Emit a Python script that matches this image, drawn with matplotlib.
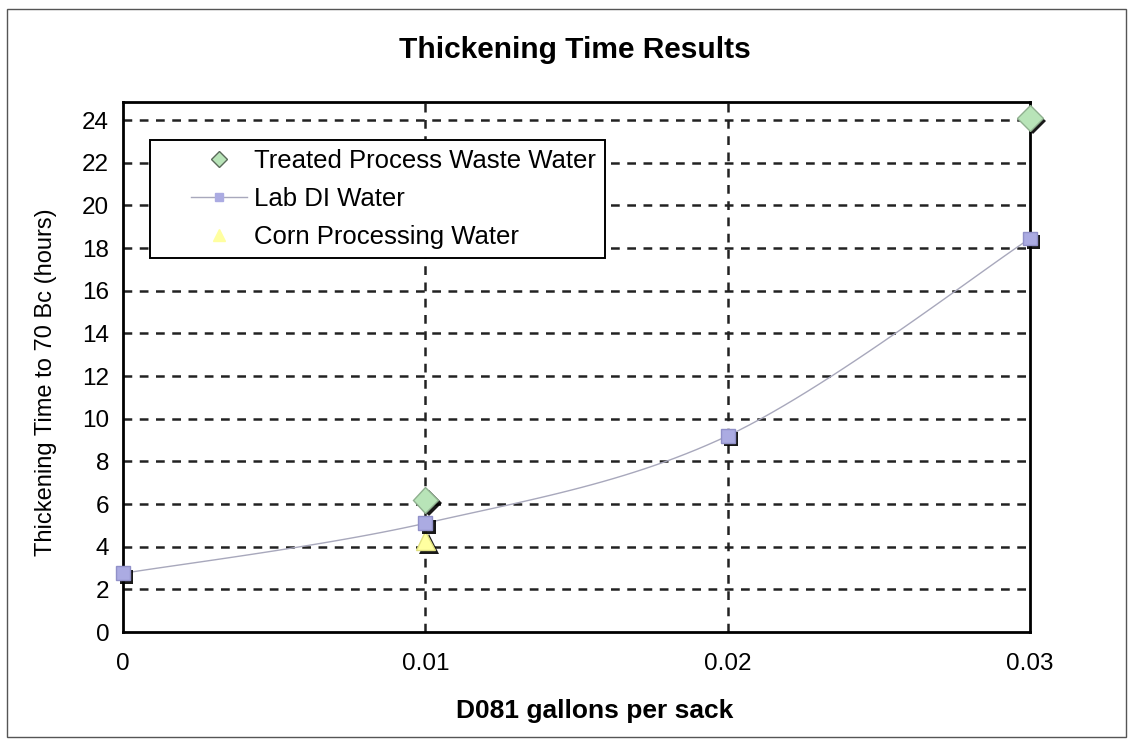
import matplotlib
matplotlib.use("Agg")
import matplotlib.pyplot as plt
import matplotlib.patheffects as pe
import numpy as np
from matplotlib.patches import Rectangle
from matplotlib.lines import Line2D
from matplotlib.legend_handler import HandlerLine2D

x_ticks = [0, 0.01, 0.02, 0.03]
x_tick_labels = ["0", "0.01", "0.02", "0.03"]

treated_x = [0.01, 0.03]
treated_y = [6.2, 24.1]

lab_x = [0.0, 0.01, 0.02, 0.03]
lab_y = [2.75, 5.1, 9.2, 18.45]

corn_x = [0.01]
corn_y = [4.3]

y_ticks = list(range(0, 25, 2))

plt.rcParams['font.family'] = ['Liberation Sans', 'DejaVu Sans']

fig = plt.figure(figsize=(11.33, 7.44), dpi=100)
ax = fig.add_axes([0.1086, 0.1505, 0.8005, 0.7124])

# smooth curve (Catmull-Rom) through Lab DI points for display
def catmull(xs, ys, n=30):
    px = [xs[0]] + list(xs) + [xs[-1]]
    py = [ys[0]] + list(ys) + [ys[-1]]
    ox, oy = [], []
    for i in range(1, len(px) - 2):
        t = np.linspace(0, 1, n)
        for arr, out in ((px, ox), (py, oy)):
            p0, p1, p2, p3 = arr[i-1], arr[i], arr[i+1], arr[i+2]
            out.extend(0.5 * ((2*p1) + (-p0 + p2)*t + (2*p0 - 5*p1 + 4*p2 - p3)*t**2 + (-p0 + 3*p1 - 3*p2 + p3)*t**3))
    return ox, oy

sx, sy = catmull(lab_x, lab_y)
ax.plot(sx, sy, color='#a8a8bc', lw=1.0, zorder=3)

for yv in y_ticks:
    if yv == 0:
        continue
    ax.axhline(yv, color='#222222', lw=1.8, ls=(0, (3.5, 3)), zorder=1)
for xv in x_ticks[1:3]:
    ax.axvline(xv, color='#222222', lw=1.8, ls=(0, (3.5, 3)), zorder=1)

shadow = [pe.withSimplePatchShadow(offset=(2.5, -2.5), shadow_rgbFace='black', alpha=0.9)]

ax.plot(treated_x, treated_y, ls='none', marker='D', ms=13, mfc='#b8e4b8', mec='#8fb08f', mew=1.0, zorder=5,
        path_effects=shadow)
ax.plot(lab_x, lab_y, ls='none', marker='s', ms=10, mfc='#ababe2', mec='#9090c8', mew=1.0, zorder=5,
        path_effects=shadow)
ax.plot(corn_x, corn_y, ls='none', marker='^', ms=14, mfc='#ffffa0', mec='#e0e080', mew=1.0, zorder=4,
        path_effects=shadow)

handles = [
    Line2D([], [], ls='none', marker='D', ms=8, mfc='#b8e4b8', mec='#5a6a5a', mew=1.0),
    Line2D([], [], color='#a8a8bc', lw=1.0, marker='s', ms=6, mfc='#ababe2', mec='#ababe2'),
    Line2D([], [], ls='none', marker='^', ms=8, mfc='#ffffa0', mec='#ffffa0'),
]
leg = ax.legend(handles, ['Treated Process Waste Water', 'Lab DI Water', 'Corn Processing Water'],
                loc='upper left', bbox_to_anchor=(0.03, 0.928), fontsize=18.5, frameon=True,
                fancybox=False, edgecolor='black', framealpha=1, borderpad=0.35,
                handlelength=3.4, handletextpad=0.3, labelspacing=0.55, borderaxespad=0,
                handler_map={Line2D: HandlerLine2D(xpad=1.25)})
leg.get_frame().set_linewidth(1.4)

ax.set_xlim(0, 0.03)
ax.set_ylim(0, 24.85)
ax.set_xticks(x_ticks)
ax.set_xticklabels(x_tick_labels)
ax.set_yticks(y_ticks)
ax.tick_params(axis='both', labelsize=17.5, length=0, pad=10)
ax.tick_params(axis='x', pad=15)
for s in ax.spines.values():
    s.set_linewidth(2.0)
for ln in ax.lines:
    ln.set_clip_on(False)

fig.text(595 / 1133, 1 - 711 / 744, 'D081 gallons per sack', ha='center', va='center',
         fontsize=19, fontweight='bold')
fig.text(46 / 1133, 1 - 382 / 744, 'Thickening Time to 70 Bc (hours)', ha='center', va='center',
         rotation=90, fontsize=17)
fig.text(575 / 1133, 1 - 50 / 744, 'Thickening Time Results', ha='center', va='center',
         fontsize=21.5, fontweight='bold')

fig.patches.append(Rectangle((0.006, 0.01), 0.988, 0.978, transform=fig.transFigure,
                             fill=False, edgecolor='#555555', lw=1.0))

fig.savefig('out.png', dpi=100)
